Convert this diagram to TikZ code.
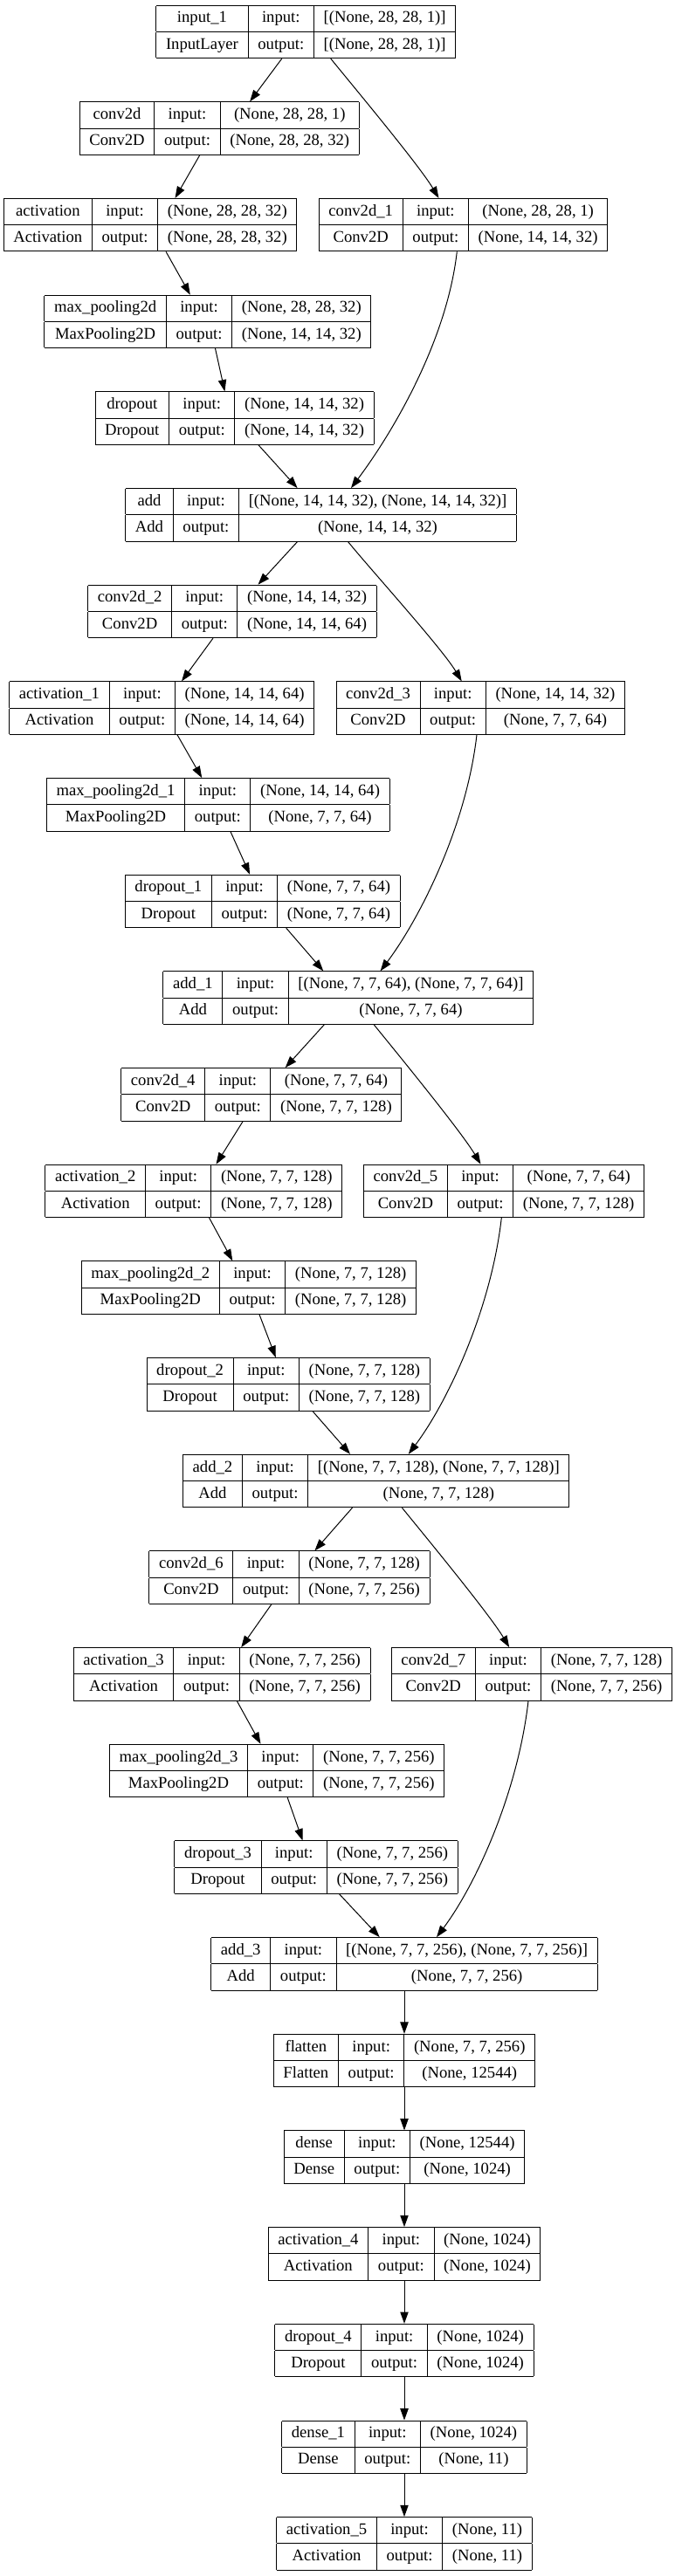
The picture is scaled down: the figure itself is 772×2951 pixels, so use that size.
\documentclass[tikz,border=0pt]{standalone}
\usepackage{fontspec}
\setmainfont{Liberation Serif}
\usetikzlibrary{arrows.meta}

\setlength{\tabcolsep}{8.4pt}
\setlength{\arrayrulewidth}{0.75pt}
\newcommand{\rowstrut}{\rule[-7.5pt]{0pt}{21.9pt}}
% one keras layer: name, class, input shape, output shape
\newcommand{\layertab}[4]{%
  \begin{tabular}{|c|c|c|}\hline
    \rowstrut #1 & input: & #3\\\hline
    \rowstrut #2 & output: & #4\\\hline
  \end{tabular}}

\tikzset{
  layer/.style={inner sep=0pt, outer sep=0pt, anchor=north, font=\fontsize{14pt}{17pt}\selectfont},
  link/.style={-{Triangle[length=10pt,width=7pt]}, line width=0.75pt}
}

\begin{document}
\begin{tikzpicture}[x=0.75pt, y=-0.75pt]
    \useasboundingbox (0,0) rectangle (772,2951);

    % first block
    \node[layer] (input1) at (350.3,5.7) {\layertab{input\_1}{InputLayer}{[(None, 28, 28, 1)]}{[(None, 28, 28, 1)]}};
    \node[layer] (conv2d) at (251.3,116.4) {\layertab{conv2d}{Conv2D}{(None, 28, 28, 1)}{(None, 28, 28, 32)}};
    \node[layer] (activation) at (172.1,227.0) {\layertab{activation}{Activation}{(None, 28, 28, 32)}{(None, 28, 28, 32)}};
    \node[layer] (conv2d1) at (530.5,227.0) {\layertab{conv2d\_1}{Conv2D}{(None, 28, 28, 1)}{(None, 14, 14, 32)}};
    \node[layer] (maxpool) at (237.9,337.7) {\layertab{max\_pooling2d}{MaxPooling2D}{(None, 28, 28, 32)}{(None, 14, 14, 32)}};
    \node[layer] (dropout) at (268.6,448.4) {\layertab{dropout}{Dropout}{(None, 14, 14, 32)}{(None, 14, 14, 32)}};
    \node[layer] (add) at (367.6,559.1) {\layertab{add}{Add}{[(None, 14, 14, 32), (None, 14, 14, 32)]}{(None, 14, 14, 32)}};

    % second block
    \node[layer] (conv2d2) at (265.9,669.7) {\layertab{conv2d\_2}{Conv2D}{(None, 14, 14, 32)}{(None, 14, 14, 64)}};
    \node[layer] (activation1) at (185.2,780.4) {\layertab{activation\_1}{Activation}{(None, 14, 14, 64)}{(None, 14, 14, 64)}};
    \node[layer] (conv2d3) at (550.3,780.4) {\layertab{conv2d\_3}{Conv2D}{(None, 14, 14, 32)}{(None, 7, 7, 64)}};
    \node[layer] (maxpool1) at (249.8,891.1) {\layertab{max\_pooling2d\_1}{MaxPooling2D}{(None, 14, 14, 64)}{(None, 7, 7, 64)}};
    \node[layer] (dropout1) at (300.8,1001.7) {\layertab{dropout\_1}{Dropout}{(None, 7, 7, 64)}{(None, 7, 7, 64)}};
    \node[layer] (add1) at (398.8,1112.4) {\layertab{add\_1}{Add}{[(None, 7, 7, 64), (None, 7, 7, 64)]}{(None, 7, 7, 64)}};

    % third block
    \node[layer] (conv2d4) at (299.3,1223.1) {\layertab{conv2d\_4}{Conv2D}{(None, 7, 7, 64)}{(None, 7, 7, 128)}};
    \node[layer] (activation2) at (221.8,1333.7) {\layertab{activation\_2}{Activation}{(None, 7, 7, 128)}{(None, 7, 7, 128)}};
    \node[layer] (conv2d5) at (577.0,1333.7) {\layertab{conv2d\_5}{Conv2D}{(None, 7, 7, 64)}{(None, 7, 7, 128)}};
    \node[layer] (maxpool2) at (284.9,1444.4) {\layertab{max\_pooling2d\_2}{MaxPooling2D}{(None, 7, 7, 128)}{(None, 7, 7, 128)}};
    \node[layer] (dropout2) at (330.2,1555.1) {\layertab{dropout\_2}{Dropout}{(None, 7, 7, 128)}{(None, 7, 7, 128)}};
    \node[layer] (add2) at (430.7,1665.8) {\layertab{add\_2}{Add}{[(None, 7, 7, 128), (None, 7, 7, 128)]}{(None, 7, 7, 128)}};

    % fourth block
    \node[layer] (conv2d6) at (331.5,1776.4) {\layertab{conv2d\_6}{Conv2D}{(None, 7, 7, 128)}{(None, 7, 7, 256)}};
    \node[layer] (activation3) at (254.2,1887.1) {\layertab{activation\_3}{Activation}{(None, 7, 7, 256)}{(None, 7, 7, 256)}};
    \node[layer] (conv2d7) at (608.9,1887.1) {\layertab{conv2d\_7}{Conv2D}{(None, 7, 7, 128)}{(None, 7, 7, 256)}};
    \node[layer] (maxpool3) at (317.1,1997.8) {\layertab{max\_pooling2d\_3}{MaxPooling2D}{(None, 7, 7, 256)}{(None, 7, 7, 256)}};
    \node[layer] (dropout3) at (362.1,2108.4) {\layertab{dropout\_3}{Dropout}{(None, 7, 7, 256)}{(None, 7, 7, 256)}};
    \node[layer] (add3) at (463,2219.1) {\layertab{add\_3}{Add}{[(None, 7, 7, 256), (None, 7, 7, 256)]}{(None, 7, 7, 256)}};

    % head
    \node[layer] (flatten) at (463,2329.8) {\layertab{flatten}{Flatten}{(None, 7, 7, 256)}{(None, 12544)}};
    \node[layer] (dense) at (463,2440.4) {\layertab{dense}{Dense}{(None, 12544)}{(None, 1024)}};
    \node[layer] (activation4) at (463,2551.1) {\layertab{activation\_4}{Activation}{(None, 1024)}{(None, 1024)}};
    \node[layer] (dropout4) at (463,2661.8) {\layertab{dropout\_4}{Dropout}{(None, 1024)}{(None, 1024)}};
    \node[layer] (dense1) at (463,2772.5) {\layertab{dense\_1}{Dense}{(None, 1024)}{(None, 11)}};
    \node[layer] (activation5) at (463,2883.1) {\layertab{activation\_5}{Activation}{(None, 11)}{(None, 11)}};

    % edges, first block
    \draw[link] (322.8,0 |- input1.south) -- (286.1,0 |- conv2d.north);
    \draw[link] (378.7,0 |- input1.south) .. controls +(26,32) and +(-22.5,-37.7) .. (502.5,0 |- conv2d1.north);
    \draw[link] (228.7,0 |- conv2d.south) -- (200.5,0 |- activation.north);
    \draw[link] (190.1,0 |- activation.south) -- (217.8,0 |- maxpool.north);
    \draw[link] (246.5,0 |- maxpool.south) -- (257.4,0 |- dropout.north);
    \draw[link] (296.0,0 |- dropout.south) -- (340.6,0 |- add.north);
    \draw[link] (523.3,0 |- conv2d1.south) .. controls +(-12,105) and +(45,-60) .. (402.0,0 |- add.north);

    % edges, second block
    \draw[link] (340.6,0 |- add.south) -- (295.5,0 |- conv2d2.north);
    \draw[link] (398.5,0 |- add.south) .. controls +(26,32) and +(-22.5,-37.7) .. (528.7,0 |- conv2d3.north);
    \draw[link] (244.0,0 |- conv2d2.south) -- (208.0,0 |- activation1.north);
    \draw[link] (203.0,0 |- activation1.south) -- (231.2,0 |- maxpool1.north);
    \draw[link] (263.9,0 |- maxpool1.south) -- (286.1,0 |- dropout1.north);
    \draw[link] (327.7,0 |- dropout1.south) -- (370.3,0 |- add1.north);
    \draw[link] (546.0,0 |- conv2d3.south) .. controls +(-12,105) and +(45,-60) .. (435.6,0 |- add1.north);

    % edges, third block
    \draw[link] (371.3,0 |- add1.south) -- (326.7,0 |- conv2d4.north);
    \draw[link] (428.2,0 |- add1.south) .. controls +(26,32) and +(-22.5,-37.7) .. (550.5,0 |- conv2d5.north);
    \draw[link] (278.2,0 |- conv2d4.south) -- (247.5,0 |- activation2.north);
    \draw[link] (239.6,0 |- activation2.south) -- (266.3,0 |- maxpool2.north);
    \draw[link] (297.0,0 |- maxpool2.south) -- (315.8,0 |- dropout2.north);
    \draw[link] (357.9,0 |- dropout2.south) -- (401.0,0 |- add2.north);
    \draw[link] (574.3,0 |- conv2d5.south) .. controls +(-12,105) and +(45,-60) .. (467.8,0 |- add2.north);

    % edges, fourth block
    \draw[link] (403.5,0 |- add2.south) -- (360.4,0 |- conv2d6.north);
    \draw[link] (460.4,0 |- add2.south) .. controls +(26,32) and +(-22.5,-37.7) .. (583.2,0 |- conv2d7.north);
    \draw[link] (310.9,0 |- conv2d6.south) -- (276.2,0 |- activation3.north);
    \draw[link] (271.3,0 |- activation3.south) -- (298.5,0 |- maxpool3.north);
    \draw[link] (329.2,0 |- maxpool3.south) -- (346.5,0 |- dropout3.north);
    \draw[link] (388.6,0 |- dropout3.south) -- (434.7,0 |- add3.north);
    \draw[link] (605.0,0 |- conv2d7.south) .. controls +(-12,105) and +(45,-60) .. (500.0,0 |- add3.north);

    % edges, head
    \draw[link] (add3) -- (flatten);
    \draw[link] (flatten) -- (dense);
    \draw[link] (dense) -- (activation4);
    \draw[link] (activation4) -- (dropout4);
    \draw[link] (dropout4) -- (dense1);
    \draw[link] (dense1) -- (activation5);
\end{tikzpicture}
\end{document}
